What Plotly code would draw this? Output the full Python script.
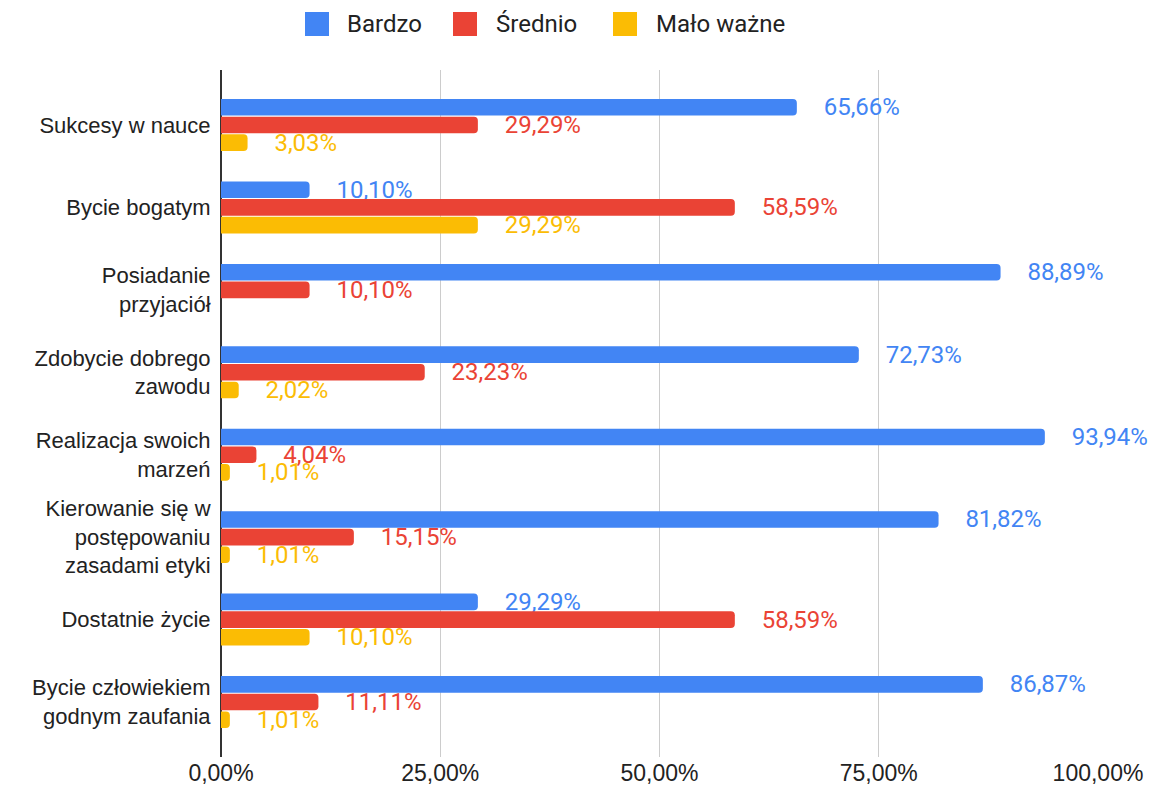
import plotly.graph_objects as go

categories = [
    "Sukcesy w nauce",
    "Bycie bogatym",
    "Posiadanie<br>przyjaciół",
    "Zdobycie dobrego<br>zawodu",
    "Realizacja swoich<br>marzeń",
    "Kierowanie się w<br>postępowaniu<br>zasadami etyki",
    "Dostatnie życie",
    "Bycie człowiekiem<br>godnym zaufania",
]
series_names = ["Bardzo", "Średnio", "Mało ważne"]
bardzo = [65.66, 10.10, 88.89, 72.73, 93.94, 81.82, 29.29, 86.87]
srednio = [29.29, 58.59, 10.10, 23.23, 4.04, 15.15, 58.59, 11.11]
malo = [3.03, 29.29, 0.0, 2.02, 1.01, 1.01, 10.10, 1.01]
tick_values = [0, 25, 50, 75, 100]
colors = ["#4285F4", "#EA4335", "#FBBC04"]

# the page body has an 8px margin: work in reference pixels minus 8
OFF = 8
W, H = 1157 - OFF, 795 - OFF
ML, MT = 221 - OFF, 70 - OFF
MR = W - (1098 - OFF)
MB = H - (757 - OFF)
PW, PH = W - ML - MR, H - MT - MB


def px_x(px):
    return (px - OFF - ML) / PW


def px_y(py):
    return (H - MB - (py - OFF)) / PH


def pct(v):
    return f"{v:.2f}".replace(".", ",") + "%"


def fmt(v):
    if v == 0:
        return ""
    return "\u00a0\u00a0\u00a0\u00a0" + pct(v)


fig = go.Figure()
for name, vals, col in zip(series_names, [bardzo, srednio, malo], colors):
    fig.add_trace(go.Bar(
        y=categories, x=vals, name=name, orientation="h",
        marker=dict(color=col, line=dict(width=0)),
        text=[fmt(v) for v in vals],
        textposition="outside",
        textfont=dict(family="Roboto", size=24, color=col),
        constraintext="none",
        cliponaxis=False,
        textangle=0,
        showlegend=False,
        hoverinfo="skip",
    ))

shapes = []
annotations = []

# custom legend
legend_sq = [305, 453, 613]
legend_tx = [345, 494, 654]
for name, col, sx, tx in zip(series_names, colors, legend_sq, legend_tx):
    shapes.append(dict(type="rect", xref="paper", yref="paper",
                       x0=px_x(sx), x1=px_x(sx + 24), y0=px_y(36), y1=px_y(12),
                       fillcolor=col, line=dict(width=0)))
    annotations.append(dict(xref="paper", yref="paper", x=px_x(tx), y=px_y(24),
                            xanchor="left", yanchor="middle", text=name, showarrow=False,
                            font=dict(family="Roboto", size=24, color="#222222")))

fig.update_layout(
    width=W, height=H,
    margin=dict(l=ML, r=MR, t=MT, b=MB, autoexpand=False),
    paper_bgcolor="white", plot_bgcolor="white",
    barmode="group", bargap=0.357, bargroupgap=0.06,
    barcornerradius=4,
    showlegend=False,
    shapes=shapes,
    annotations=annotations,
    xaxis=dict(
        range=[0, 100], tickvals=tick_values,
        ticktext=[pct(t) for t in tick_values],
        showgrid=True, gridcolor="#cccccc", gridwidth=1,
        zeroline=True, zerolinecolor="#333333", zerolinewidth=1.5,
        showline=False, ticks="", automargin=False,
        tickfont=dict(family="Liberation Sans", size=23, color="#222222"),
        fixedrange=True,
    ),
    yaxis=dict(
        type="category", range=[7.667, -0.667],
        showgrid=False, zeroline=False, showline=False,
        ticks="outside", ticklen=5, tickcolor="rgba(0,0,0,0)",
        automargin=False,
        tickfont=dict(family="Liberation Sans", size=22, color="#222222"),
        fixedrange=True,
    ),
    font=dict(family="Roboto"),
)

fig.write_html("out.html")
